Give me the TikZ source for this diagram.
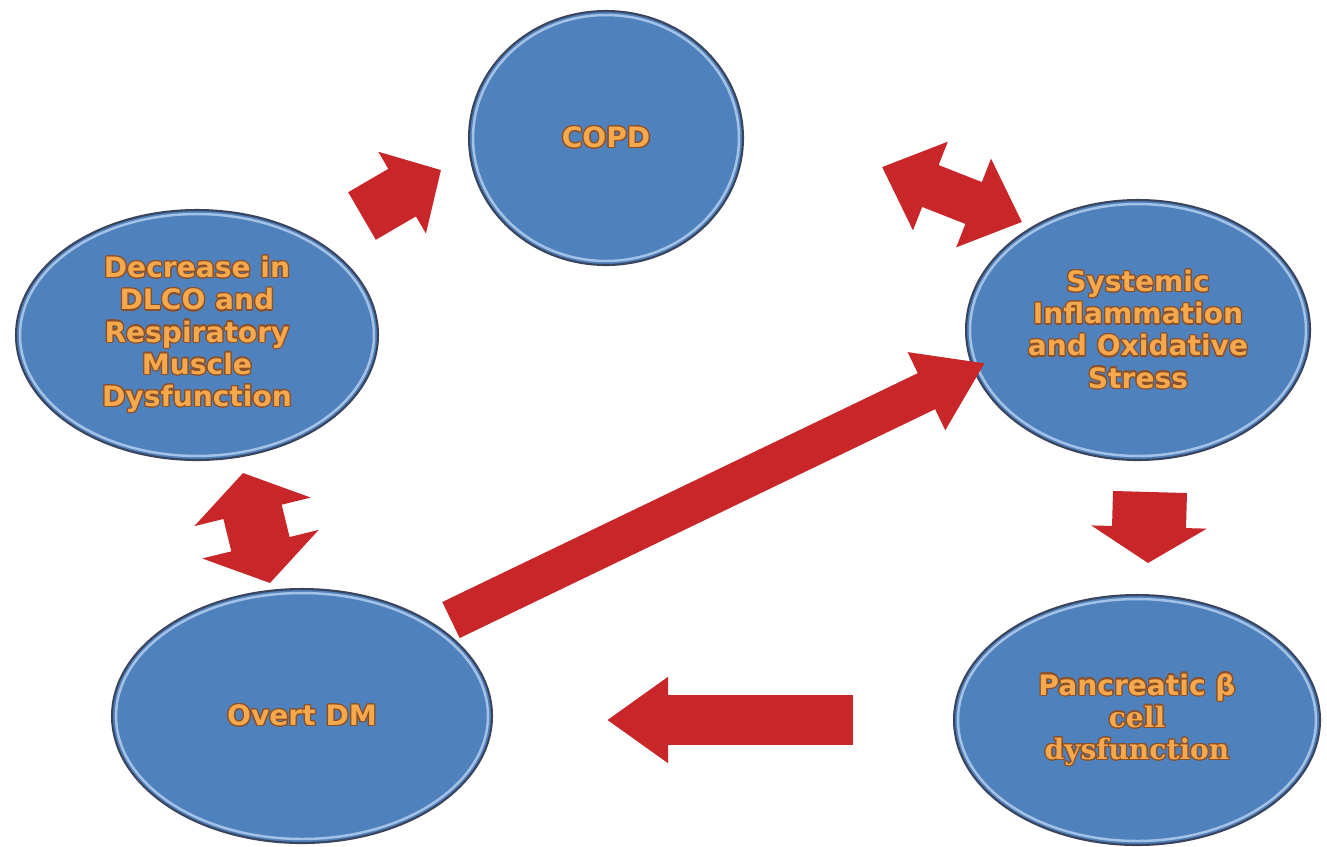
\documentclass[tikz,border=0pt]{standalone}
\usepackage{fontspec}
\setmainfont{DejaVu Sans}
\newfontfamily\serifb{DejaVu Serif}
\usepackage{contour}
\contourlength{0.7pt}
\usetikzlibrary{arrows.meta,shapes.geometric}
\definecolor{bubfill}{RGB}{79,129,189}
\definecolor{bubedge}{RGB}{58,68,92}
\definecolor{bubrim}{RGB}{178,206,238}
\definecolor{arrred}{RGB}{200,38,40}
\definecolor{txtor}{RGB}{245,168,76}
\definecolor{txtedge}{RGB}{140,80,40}
\newcommand\ot[1]{\contour{txtedge}{#1}}
\tikzset{
  bub/.style={ellipse, fill=bubfill, draw=bubedge, line width=1.2pt, inner sep=0pt,
    align=center, font=\fontsize{16}{18.3}\selectfont\bfseries, text=txtor},
  rim/.style={draw=bubrim, line width=1.4pt, opacity=0.85},
  fatone/.style n args={3}{draw=arrred, line width=#1, -{Triangle[length=#2,width=#3]}},
  fattwo/.style n args={3}{draw=arrred, line width=#1, {Triangle[length=#2,width=#3]}-{Triangle[length=#2,width=#3]}}
}
\begin{document}
\begin{tikzpicture}[x=0.02cm,y=-0.02cm]
\useasboundingbox (0,0) rectangle (1327,846);
\fill[white] (0,0) rectangle (1327,846);

% bubbles
\node[bub, minimum width=5.48cm, minimum height=5.08cm] (copd) at (606,138) {\ot{COPD}};
\draw[rim] (copd.center) ellipse [x radius=2.66cm, y radius=2.46cm];

\node[bub, minimum width=7.24cm, minimum height=5.0cm] (dec) at (197,335)
  {\ot{Decrease in}\\\ot{DLCO and}\\\ot{Respiratory}\\\ot{Muscle}\\\ot{Dysfunction}};
\draw[rim] (dec.center) ellipse [x radius=3.54cm, y radius=2.42cm];

\node[bub, minimum width=6.88cm, minimum height=5.2cm] (sys) at (1138,330)
  {\ot{Systemic}\\\ot{Inflammation}\\\ot{and Oxidative}\\\ot{Stress}};
\draw[rim] (sys.center) ellipse [x radius=3.36cm, y radius=2.52cm];

\node[bub, minimum width=7.6cm, minimum height=5.08cm] (dm) at (302,716) {\ot{Overt DM}};
\draw[rim] (dm.center) ellipse [x radius=3.72cm, y radius=2.46cm];

\node[bub, minimum width=7.32cm, minimum height=5.0cm] (pan) at (1137,720)
  {\ot{Pancreatic β}\\{\serifb\bfseries\ot{cell}}\\{\serifb\bfseries\ot{dysfunction}}};
\draw[rim] (pan.center) ellipse [x radius=3.58cm, y radius=2.42cm];

% arrow end points
\coordinate (a1s) at (362,216); \coordinate (a1e) at (441,170);
\coordinate (a2s) at (882,167); \coordinate (a2e) at (1022,222);
\coordinate (a3s) at (243,473); \coordinate (a3e) at (270,583);
\coordinate (a4s) at (451,620); \coordinate (a4e) at (985,363);
\coordinate (a5s) at (1150,492); \coordinate (a5e) at (1148,563);
\coordinate (a6s) at (853,720); \coordinate (a6e) at (607,720);

% block arrows
\draw[fatone={1.1cm}{0.9cm}{1.84cm}] (a1s) -- (a1e);
\draw[fattwo={0.9cm}{1.04cm}{1.84cm}] (a2s) -- (a2e);
\draw[fattwo={1.2cm}{0.8cm}{2.36cm}] (a3s) -- (a3e);
\draw[fatone={0.8cm}{1.3cm}{1.64cm}] (a4s) -- (a4e);
\draw[fatone={1.48cm}{0.72cm}{2.28cm}] (a5s) -- (a5e);
\draw[fatone={1.0cm}{1.22cm}{1.64cm}] (a6s) -- (a6e);
\end{tikzpicture}
\end{document}
